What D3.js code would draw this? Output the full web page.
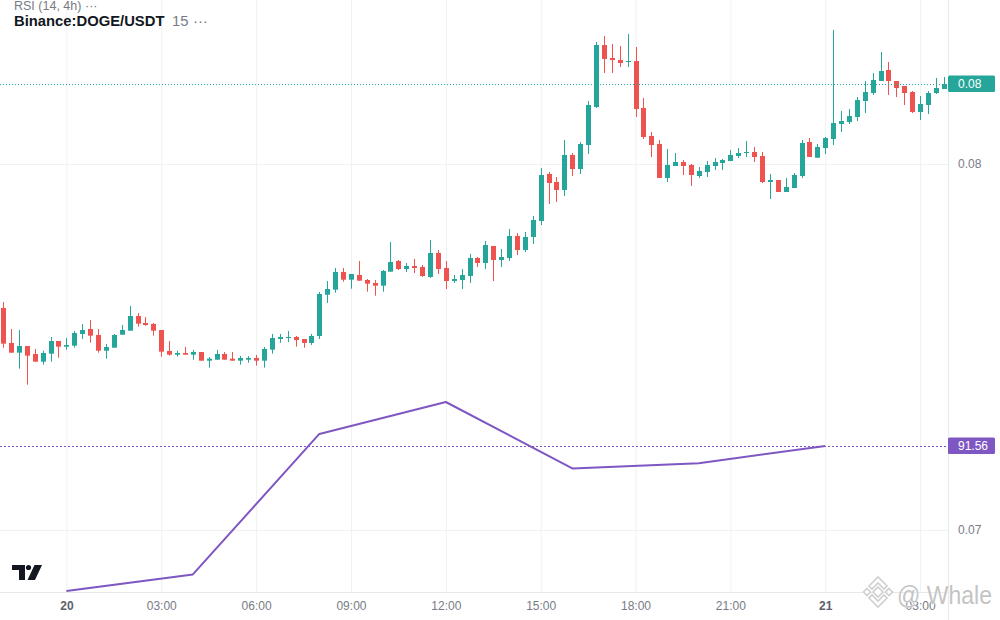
<!DOCTYPE html>
<html><head><meta charset="utf-8">
<script src="https://cdn.jsdelivr.net/npm/d3@7"></script>
<style>
html,body{margin:0;padding:0;background:#fff;}
svg{display:block;font-family:"Liberation Sans",Arial,sans-serif;}
</style></head>
<body><svg id="chart" width="1000" height="620"></svg>
<script>
// ---------- DATA ----------
const legendIndicator = "RSI (14, 4h)";
const legendSymbol = "Binance:DOGE/USDT";
const legendInterval = "15";
const watermarkText = "@ Whale";
const candleStart = "2023-08-19T22:00";
const candleMinutes = 15;
const opens = [0.076066,0.075110,0.074845,0.075028,0.074809,0.074599,0.074817,0.075164,0.075009,0.075036,0.075356,0.075492,0.075328,0.074899,0.074981,0.075336,0.075446,0.075847,0.075656,0.075629,0.075465,0.074891,0.074790,0.074837,0.074790,0.074864,0.074626,0.074653,0.074809,0.074681,0.074626,0.074653,0.074700,0.074626,0.074927,0.075219,0.075246,0.075274,0.075219,0.075110,0.075301,0.076429,0.076566,0.077049,0.076839,0.076967,0.076831,0.076749,0.076675,0.077058,0.077350,0.077131,0.077213,0.077186,0.076913,0.077569,0.077159,0.076804,0.076831,0.076940,0.077432,0.077295,0.077760,0.077377,0.077432,0.078033,0.077650,0.078006,0.078443,0.079727,0.079508,0.079290,0.080246,0.079863,0.080519,0.081557,0.083251,0.082896,0.082841,0.082787,0.082814,0.081530,0.080765,0.080546,0.079618,0.079945,0.080055,0.079973,0.079672,0.079781,0.079945,0.080027,0.080082,0.080219,0.080301,0.080328,0.080219,0.079508,0.079563,0.079235,0.079344,0.079672,0.080601,0.080172,0.080437,0.080683,0.081093,0.081147,0.081284,0.081721,0.081940,0.082268,0.082568,0.082268,0.082131,0.081967,0.081421,0.081612,0.081940,0.082049];
const highs = [0.076230,0.075492,0.075465,0.075028,0.074946,0.074899,0.075274,0.075164,0.075246,0.075438,0.075629,0.075738,0.075492,0.075082,0.075356,0.075601,0.076121,0.075929,0.075820,0.075656,0.075465,0.075164,0.074899,0.075000,0.074918,0.074864,0.074727,0.074918,0.074864,0.074864,0.074755,0.074755,0.074782,0.075000,0.075356,0.075356,0.075438,0.075301,0.075219,0.075356,0.076503,0.076804,0.077159,0.077159,0.076995,0.077350,0.076858,0.076831,0.077104,0.077869,0.077377,0.077295,0.077405,0.077241,0.077924,0.077650,0.077350,0.076967,0.077131,0.077541,0.077459,0.077896,0.077760,0.077678,0.078224,0.078115,0.078142,0.078579,0.079891,0.079781,0.079645,0.080656,0.080301,0.080601,0.081721,0.083333,0.083497,0.083278,0.083224,0.083552,0.083196,0.081803,0.080874,0.080656,0.080410,0.080301,0.080109,0.080000,0.079918,0.080082,0.080164,0.080137,0.080382,0.080437,0.080628,0.080464,0.080328,0.079727,0.079563,0.079618,0.079754,0.080656,0.080710,0.080546,0.080738,0.083661,0.081448,0.081503,0.081830,0.082268,0.082486,0.083060,0.082787,0.082268,0.082131,0.081994,0.081858,0.081994,0.082350,0.082377];
const lows = [0.074981,0.074845,0.074408,0.073970,0.074599,0.074517,0.074599,0.074708,0.074927,0.074981,0.075219,0.075118,0.074845,0.074681,0.074981,0.075336,0.075446,0.075555,0.075582,0.075309,0.074735,0.074763,0.074735,0.074790,0.074653,0.074626,0.074435,0.074653,0.074653,0.074626,0.074517,0.074572,0.074490,0.074435,0.074817,0.075118,0.075137,0.075009,0.074981,0.075055,0.075219,0.076203,0.076484,0.076784,0.076593,0.076812,0.076511,0.076402,0.076511,0.077058,0.077104,0.077049,0.077022,0.076913,0.076886,0.076995,0.076585,0.076749,0.076585,0.076749,0.077186,0.077131,0.076804,0.077186,0.077350,0.077514,0.077596,0.077814,0.078333,0.078907,0.078962,0.079126,0.079672,0.079727,0.080273,0.081530,0.082486,0.082486,0.082650,0.082650,0.081284,0.080683,0.080191,0.079618,0.079508,0.079945,0.079699,0.079399,0.079618,0.079645,0.079836,0.079836,0.080082,0.080164,0.080191,0.080055,0.079481,0.079044,0.079235,0.079235,0.079344,0.079618,0.080191,0.080164,0.080273,0.080519,0.080874,0.081093,0.081175,0.081393,0.081885,0.082268,0.081885,0.081830,0.081612,0.081393,0.081202,0.081366,0.081912,0.082049];
const closes = [0.075091,0.074845,0.075028,0.074763,0.074599,0.074837,0.075164,0.075009,0.075055,0.075383,0.075465,0.075309,0.074899,0.075000,0.075328,0.075465,0.075847,0.075637,0.075601,0.075446,0.074872,0.074790,0.074837,0.074790,0.074864,0.074626,0.074681,0.074809,0.074653,0.074626,0.074700,0.074700,0.074626,0.074946,0.075246,0.075274,0.075274,0.075192,0.075110,0.075301,0.076448,0.076585,0.077049,0.076839,0.076995,0.076812,0.076730,0.076675,0.077077,0.077323,0.077131,0.077213,0.077159,0.076940,0.077569,0.077131,0.076804,0.076858,0.076967,0.077432,0.077295,0.077787,0.077377,0.077459,0.078033,0.077650,0.078006,0.078470,0.079699,0.079481,0.079290,0.080246,0.079863,0.080546,0.081612,0.083251,0.082869,0.082841,0.082759,0.082814,0.081503,0.080738,0.080519,0.079618,0.079973,0.080055,0.079945,0.079699,0.079809,0.079973,0.080055,0.080109,0.080246,0.080301,0.080328,0.080191,0.079508,0.079563,0.079235,0.079372,0.079699,0.080574,0.080191,0.080464,0.080710,0.081120,0.081175,0.081311,0.081748,0.081967,0.082295,0.082541,0.082268,0.082076,0.081940,0.081421,0.081639,0.081940,0.082076,0.082186];
const rsiTimes = ["2023-08-20T00:00","2023-08-20T04:00","2023-08-20T08:00","2023-08-20T12:00","2023-08-20T16:00","2023-08-20T20:00","2023-08-21T00:00"];
const rsiValues = [80.2, 81.5, 92.5, 95.0, 89.8, 90.2, 91.56];
const priceTicks = [0.07, 0.08];

// ---------- LAYOUT ----------
const W = 1000, H = 620, plotRight = 948, plotBottom = 592;
const upColor = "#26a69a", downColor = "#ef5350", rsiColor = "#7e57c2";
const gridColor = "#f0f1f3", textColor = "#787b86";

const svg = d3.select("#chart");
const parse = d3.utcParse("%Y-%m-%dT%H:%M");
const start = parse(candleStart);
const candles = opens.map((o, i) => ({
  t: d3.utcMinute.offset(start, i * candleMinutes), o, h: highs[i], l: lows[i], c: closes[i]
}));

const x = d3.scaleUtc().domain([parse("2023-08-20T00:00"), parse("2023-08-21T03:00")]).range([66.4, 920.1]);
const y = d3.scaleLinear().domain([0.07, 0.08]).range([530, 164]);
const yR = d3.scaleLinear().domain([80.2, 95.0]).range([591, 402]);

const timeTicks = d3.utcHour.every(3).range(candles[0].t, candles[candles.length - 1].t);

// clip
svg.append("defs").append("clipPath").attr("id", "plot")
  .append("rect").attr("x", 0).attr("y", 0).attr("width", plotRight).attr("height", plotBottom);

// grid
const gx = svg.append("g").attr("transform", `translate(0,${plotBottom})`)
  .call(d3.axisBottom(x).tickValues(timeTicks).tickSize(-plotBottom).tickFormat(""));
gx.select(".domain").remove();
gx.selectAll("line").attr("stroke", gridColor);
const gy = svg.append("g")
  .call(d3.axisRight(y).tickValues(priceTicks).tickSize(plotRight).tickFormat(""));
gy.select(".domain").remove();
gy.selectAll("line").attr("stroke", gridColor);

// axis borders
svg.append("line").attr("x1", 0).attr("x2", plotRight).attr("y1", plotBottom + 0.5).attr("y2", plotBottom + 0.5).attr("stroke", "#e6e8ec");
svg.append("line").attr("x1", plotRight + 0.5).attr("x2", plotRight + 0.5).attr("y1", 0).attr("y2", H).attr("stroke", "#e6e8ec");

const plot = svg.append("g").attr("clip-path", "url(#plot)");

// candles
const cg = plot.append("g");
cg.selectAll("line.wick").data(candles).join("line")
  .attr("class", "wick")
  .attr("x1", d => Math.round(x(d.t)) + 0.5).attr("x2", d => Math.round(x(d.t)) + 0.5)
  .attr("y1", d => y(d.h)).attr("y2", d => y(d.l))
  .attr("stroke", d => d.c >= d.o ? upColor : downColor).attr("stroke-width", 1);
cg.selectAll("rect.body").data(candles).join("rect")
  .attr("class", "body")
  .attr("x", d => Math.round(x(d.t)) - 2).attr("width", 5)
  .attr("y", d => y(Math.max(d.o, d.c)))
  .attr("height", d => Math.max(1, Math.abs(y(d.o) - y(d.c))))
  .attr("fill", d => d.c >= d.o ? upColor : downColor);

// last price line
const last = candles[candles.length - 1];
const yl = Math.round(y(last.c)) + 0.5;
plot.append("line").attr("x1", 0).attr("x2", plotRight).attr("y1", yl).attr("y2", yl)
  .attr("stroke", upColor).attr("stroke-dasharray", "1,2");

// RSI
const rsi = rsiTimes.map((t, i) => ({ t: parse(t), v: rsiValues[i] }));
plot.append("path").datum(rsi)
  .attr("d", d3.line().x(d => x(d.t)).y(d => yR(d.v)))
  .attr("fill", "none").attr("stroke", rsiColor).attr("stroke-width", 2).attr("stroke-linejoin", "round");
const yrl = Math.round(yR(rsiValues[rsiValues.length - 1])) + 0.5;
plot.append("line").attr("x1", 0).attr("x2", plotRight).attr("y1", yrl).attr("y2", yrl)
  .attr("stroke", rsiColor).attr("stroke-dasharray", "2,2");

// right axis labels
const ay = svg.append("g").attr("transform", `translate(${plotRight},0)`)
  .call(d3.axisRight(y).tickValues(priceTicks).tickSize(0).tickPadding(10).tickFormat(d3.format(".2f")));
ay.select(".domain").remove();
ay.selectAll("text").attr("fill", textColor).attr("font-size", 12).attr("font-family", "Liberation Sans, Arial, sans-serif");

// value tags
function tag(yc, bg, label) {
  svg.append("rect").attr("x", plotRight).attr("y", yc - 8.5).attr("width", 47).attr("height", 16.5)
    .attr("rx", 1.5).attr("fill", bg);
  svg.append("text").attr("x", plotRight + 10).attr("y", yc + 4.3).attr("fill", "#fff")
    .attr("font-size", 12).text(label);
}
tag(y(last.c), upColor, d3.format(".2f")(last.c));
tag(yR(rsiValues[rsiValues.length - 1]), rsiColor, d3.format(".2f")(rsiValues[rsiValues.length - 1]));

// bottom axis labels
const ax = svg.append("g").attr("transform", `translate(0,${plotBottom})`)
  .call(d3.axisBottom(x).tickValues(timeTicks).tickSize(0).tickPadding(9.5)
    .tickFormat(d => d.getUTCHours() === 0 ? d3.utcFormat("%-d")(d) : d3.utcFormat("%H:%M")(d)));
ax.select(".domain").remove();
ax.selectAll("text").attr("font-size", 12).attr("font-family", "Liberation Sans, Arial, sans-serif")
  .attr("fill", d => d.getUTCHours() === 0 ? "#5d606b" : textColor)
  .attr("font-weight", d => d.getUTCHours() === 0 ? "bold" : "normal");

// legend
svg.append("text").attr("x", 14).attr("y", 10).attr("font-size", 12.5).attr("fill", textColor).text(legendIndicator);
svg.append("text").attr("x", 85).attr("y", 10).attr("font-size", 12.5).attr("fill", textColor).text("···");
svg.append("text").attr("x", 14).attr("y", 25.5).attr("font-size", 14.8).attr("font-weight", "bold").attr("fill", "#131722").text(legendSymbol);
svg.append("text").attr("x", 172).attr("y", 25.5).attr("font-size", 14.8).attr("fill", textColor).text(legendInterval);
svg.append("text").attr("x", 193).attr("y", 25.5).attr("font-size", 14.8).attr("fill", textColor).text("···");

// TradingView logo
const logo = svg.append("g").attr("fill", "#131722");
logo.append("path").attr("d", "M12,565 H25 V580 H19 V570 H12 Z");
logo.append("circle").attr("cx", 28.5).attr("cy", 567.5).attr("r", 2.6);
logo.append("path").attr("d", "M34.5,565 H42 L35,580 H27.5 Z");

// watermark
const wm = svg.append("g");
const bl = wm.append("g").attr("transform", "translate(878,592)")
  .attr("fill", "#ffffff").attr("stroke", "#cfcfcf").attr("stroke-width", 1.6).attr("stroke-linejoin", "miter");
bl.append("path").attr("d", "M0,-5 L5,0 L0,5 L-5,0 Z");
bl.append("path").attr("d", "M-11,-3.5 L-7.5,0 L-11,3.5 L-14.5,0 Z");
bl.append("path").attr("d", "M11,-3.5 L14.5,0 L11,3.5 L7.5,0 Z");
bl.append("path").attr("d", "M-9,-6 L0,-15 L9,-6 L6,-3 L0,-9 L-6,-3 Z");
bl.append("path").attr("d", "M-9,6 L0,15 L9,6 L6,3 L0,9 L-6,3 Z");
wm.append("text").attr("x", 897).attr("y", 603.5).attr("font-size", 25)
  .attr("textLength", 95).attr("lengthAdjust", "spacingAndGlyphs")
  .attr("fill", "#c4c4c4").attr("stroke", "#ffffff").attr("stroke-width", 0.7)
  .attr("paint-order", "stroke").text(watermarkText);
</script></body></html>
